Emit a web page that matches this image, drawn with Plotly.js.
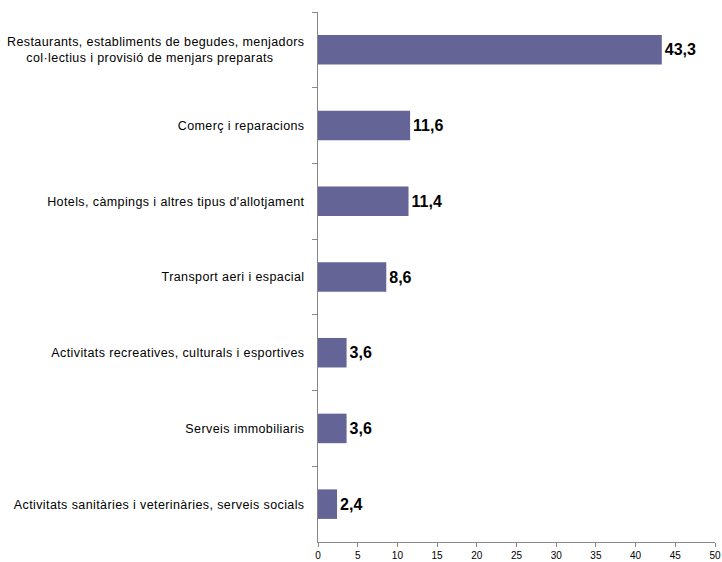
<!DOCTYPE html>
<html>
<head>
<meta charset="utf-8">
<script src="https://cdn.plot.ly/plotly-3.0.1.min.js"></script>
<style>html,body{margin:0;padding:0;background:#fff;}#chart{width:722px;height:562px;}
#chart .ytick text{letter-spacing:0.4px;}</style>
</head>
<body>
<div id="chart"></div>
<script>
const categories = [
  "Restaurants, establiments de begudes, menjadors<br>col·lectius i provisió de menjars preparats\u00A0\u00A0\u00A0\u00A0\u00A0\u00A0\u00A0\u00A0",
  "Comerç i reparacions",
  "Hotels, càmpings i altres tipus d'allotjament",
  "Transport aeri i espacial",
  "Activitats recreatives, culturals i esportives",
  "Serveis immobiliaris",
  "Activitats sanitàries i veterinàries, serveis socials"
];
const values = [43.3, 11.6, 11.4, 8.6, 3.6, 3.6, 2.4];
const xTicks = [0, 5, 10, 15, 20, 25, 30, 35, 40, 45, 50];

const trace = {
  type: 'bar',
  orientation: 'h',
  x: values,
  y: categories,
  marker: {color: '#646496'},
  texttemplate: '%{x:.1f}',
  textposition: 'outside',
  cliponaxis: false,
  textfont: {family: 'Liberation Sans, Arial, sans-serif', size: 16, color: '#000', weight: 'bold'},
  hoverinfo: 'none'
};

const layout = {
  width: 722, height: 562,
  margin: {l: 318, r: 7, t: 12, b: 20},
  separators: ', ',
  paper_bgcolor: '#fff', plot_bgcolor: '#fff',
  font: {family: 'Liberation Sans, Arial, sans-serif', size: 12, color: '#000'},
  showlegend: false,
  bargap: 0.61,
  xaxis: {
    range: [0, 50], tickvals: xTicks, ticktext: xTicks.map(String),
    showgrid: false, zeroline: false,
    showline: true, linecolor: '#888', linewidth: 1,
    ticks: 'outside', ticklen: 4, tickcolor: '#888',
    tickfont: {size: 10, color: '#000'}
  },
  yaxis: {
    type: 'category', autorange: 'reversed',
    showgrid: false, zeroline: false,
    showline: true, linecolor: '#888', linewidth: 1,
    ticks: 'outside', ticklen: 5, tickcolor: '#888', tickson: 'boundaries',
    ticklabelstandoff: 10,
    tickfont: {size: 12.5, color: '#000'}
  }
};

Plotly.newPlot('chart', [trace], layout, {displayModeBar: false, staticPlot: true});
</script>
</body>
</html>
